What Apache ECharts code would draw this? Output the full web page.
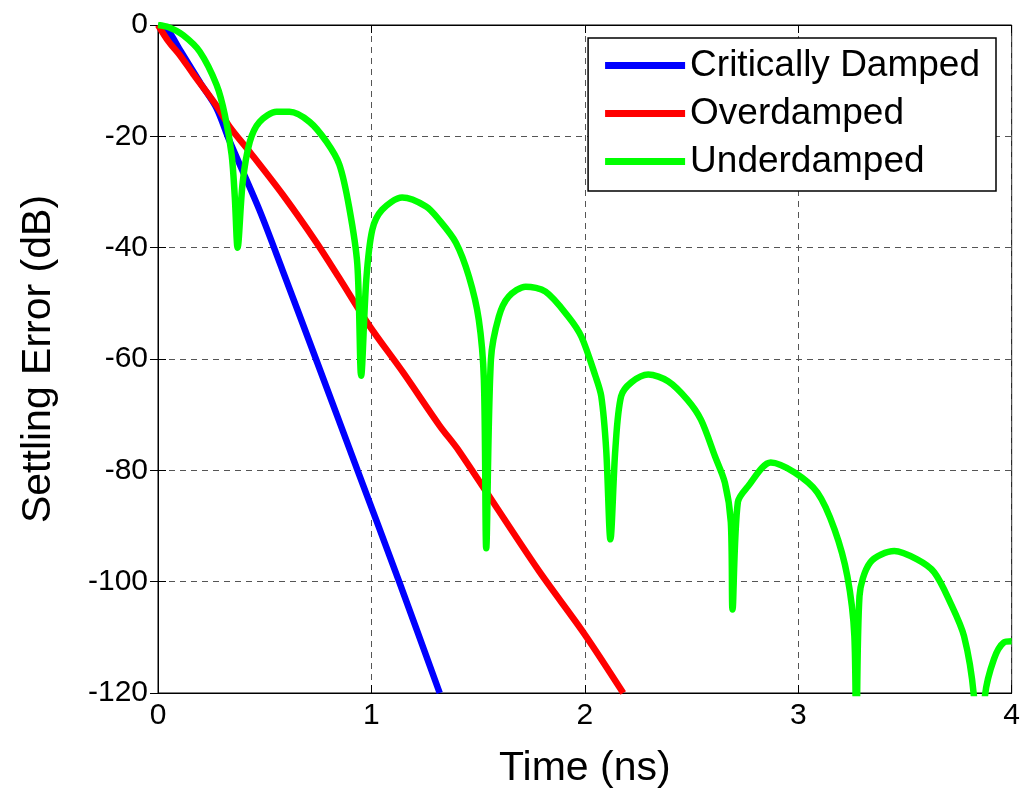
<!doctype html>
<html>
<head>
    <meta charset="utf-8">
    <title>Settling Error</title>
    <script src="https://cdn.jsdelivr.net/npm/echarts@6/dist/echarts.min.js"></script>
</head>
<body style="margin:0;padding:0;background:#fff">
    <div id="tb" style="width:1023px;height:794px"></div>
    <script>
        // 数据
        var critTime = [0, 0.05, 0.103, 0.2, 0.274, 0.336, 0.476, 0.585, 0.74, 0.935, 1.13, 1.32];
        var critDb = [0, -1.2, -4.5, -10.5, -14.9, -20.9, -33.3, -44.2, -60, -80, -100, -120];

        var overTime = [0, 0.05, 0.1, 0.165, 0.274, 0.336, 0.43, 0.585, 0.741, 0.85, 0.99, 1.15, 1.32, 1.41, 1.78, 2.0, 2.18];
        var overDb = [0, -3, -5.3, -8.8, -14.5, -18.3, -22.8, -30.5, -39, -45.5, -54, -62.5, -72, -76.5, -97.8, -109.5, -120];

        var underTime = [0, 0.05, 0.117, 0.196, 0.275, 0.313, 0.345, 0.36, 0.373, 0.397, 0.43, 0.476, 0.556, 0.616,
            0.71, 0.79, 0.85, 0.896, 0.934, 0.952, 0.976, 1.004, 1.05, 1.144, 1.256, 1.317, 1.396, 1.457, 1.503,
            1.527, 1.538, 1.56, 1.597, 1.643, 1.723, 1.816, 1.923, 1.984, 2.05, 2.077, 2.1, 2.12, 2.143, 2.17,
            2.218, 2.297, 2.39, 2.48, 2.544, 2.61, 2.656, 2.684, 2.692, 2.717, 2.764, 2.871, 2.983, 3.09, 3.17,
            3.23, 3.263, 3.272, 3.287, 3.338, 3.45, 3.557, 3.637, 3.712, 3.777, 3.823, 3.85, 3.875, 3.917, 3.964, 4.0];
        var underDb = [0, -0.4, -1.8, -4.8, -10.8, -16.1, -23.3, -31, -40, -28.2, -21, -17.4, -15.6, -15.6,
            -17.4, -21, -25.1, -32.8, -43, -63, -45.7, -36.8, -33.2, -31, -32.6, -35, -39.1, -45.2, -52.9,
            -63.7, -94, -60.1, -52.4, -48.8, -47, -47.9, -52.4, -56, -63.1, -66.7, -76.2, -92.4, -76.2, -66.7,
            -64.2, -62.8, -64, -67.3, -70.9, -77.5, -82.2, -89.3, -105, -85.7, -82.9, -78.6, -80.4, -84, -90.6,
            -99, -109.8, -135, -102.6, -96.5, -94.5, -96, -98.3, -103.7, -109.8, -120.5, -140, -120.5, -113.9, -110.9, -110.7];

        var seriesNames = ['Critically Damped', 'Overdamped', 'Underdamped'];
        var colors = ['#0000ff', '#ff0000', '#00ff00'];

        function pairs(xs, ys) {
            return xs.map(function (x, i) { return [x, ys[i]]; });
        }

        var chart = echarts.init(document.getElementById('tb'));
        var font = 'Liberation Sans, Arial, sans-serif';
        var gridLine = { show: true, lineStyle: { color: '#555', type: [6, 5], width: 1 } };
        var tick = { show: true, inside: true, length: 8, lineStyle: { color: '#000' } };

        chart.setOption({
            animation: false,
            textStyle: { fontFamily: font },
            grid: { left: 158, right: 8, top: 25, bottom: 100, show: true, borderColor: '#000', borderWidth: 1 },
            legend: {
                data: seriesNames,
                orient: 'vertical',
                right: 27,
                top: 38,
                icon: 'rect',
                itemWidth: 80,
                itemHeight: 7,
                itemGap: 11,
                padding: [9, 16, 11, 17],
                borderColor: '#000',
                borderWidth: 1.5,
                backgroundColor: '#fff',
                textStyle: { fontSize: 37, color: '#000', fontFamily: font }
            },
            xAxis: [{
                type: 'value', min: 0, max: 4, interval: 1,
                name: 'Time (ns)', nameLocation: 'middle', nameGap: 55,
                nameTextStyle: { fontSize: 41, color: '#000' },
                axisLine: { show: true, onZero: false, lineStyle: { color: '#000', width: 1 } },
                axisTick: tick,
                axisLabel: { fontSize: 30, color: '#000', margin: 8 },
                splitLine: gridLine
            }, {
                type: 'value', min: 0, max: 4, interval: 1, position: 'top',
                axisLine: { show: true, lineStyle: { color: '#000', width: 1 } },
                axisTick: tick,
                axisLabel: { show: false }, splitLine: { show: false }
            }],
            yAxis: [{
                type: 'value', min: -120, max: 0, interval: 20,
                name: 'Settling Error (dB)', nameLocation: 'middle', nameGap: 99,
                nameTextStyle: { fontSize: 41, color: '#000' },
                axisLine: { show: true, onZero: false, lineStyle: { color: '#000', width: 1 } },
                axisTick: tick,
                axisLabel: { fontSize: 30, color: '#000', margin: 10 },
                splitLine: gridLine
            }, {
                type: 'value', min: -120, max: 0, interval: 20, position: 'right',
                axisLine: { show: true, lineStyle: { color: '#000', width: 1 } },
                axisTick: tick,
                axisLabel: { show: false }, splitLine: { show: false }
            }],
            series: [{
                name: seriesNames[0], type: 'line', showSymbol: false, clip: true, smooth: 0.3,
                data: pairs(critTime, critDb),
                lineStyle: { color: colors[0], width: 6.5 }, itemStyle: { color: colors[0] }
            }, {
                name: seriesNames[1], type: 'line', showSymbol: false, clip: true, smooth: 0.3,
                data: pairs(overTime, overDb),
                lineStyle: { color: colors[1], width: 6.5 }, itemStyle: { color: colors[1] }
            }, {
                name: seriesNames[2], type: 'line', showSymbol: false, clip: true, smooth: 0.3,
                data: pairs(underTime, underDb),
                lineStyle: { color: colors[2], width: 6.5 }, itemStyle: { color: colors[2] }
            }]
        });
    </script>
</body>
</html>
